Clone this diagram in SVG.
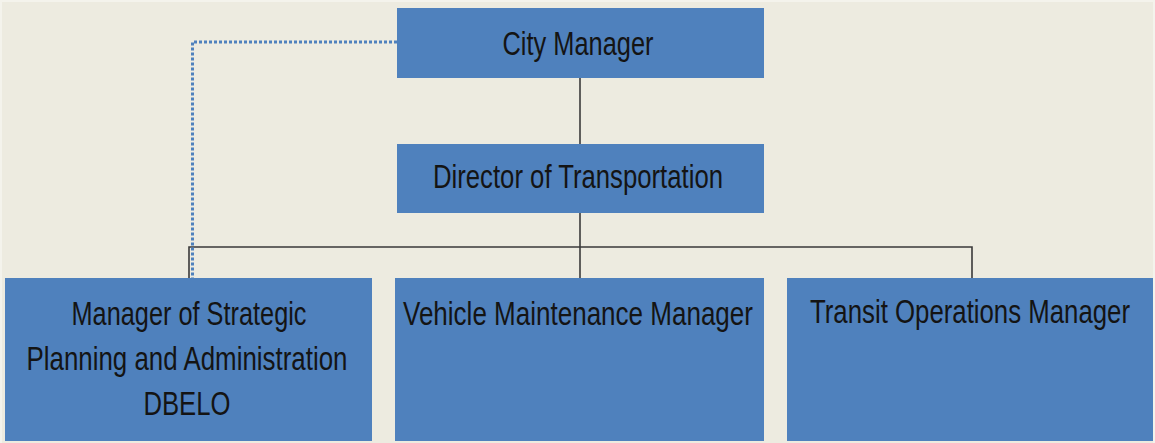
<svg xmlns="http://www.w3.org/2000/svg" width="1155" height="443" viewBox="0 0 1155 443">
  <style>
    .box { fill: #4F81BD; }
    .lbl { font-family: "Liberation Sans", Arial, sans-serif; font-size: 33px; fill: #141414; text-anchor: middle; }
    .line { fill: none; stroke: #3a3a3a; stroke-width: 1.6; }
    .dot { fill: none; stroke: #4F81BD; stroke-width: 3; stroke-dasharray: 3 2; }
  </style>
  <!-- page -->
  <rect x="0" y="0" width="1155" height="443" fill="#F4F3EC"/>
  <rect x="2" y="2" width="1151" height="441" fill="#EDEBE0"/>

  <g id="connectors">
    <line class="line" x1="580" y1="78" x2="580" y2="144"/>
    <line class="line" x1="580" y1="213" x2="580" y2="278"/>
    <polyline class="line" points="189,278 189,247 972,247 972,278"/>
    <polyline class="dot" points="397,42 192.5,42 192.5,278"/>
  </g>

  <!-- labels use a narrow face: horizontal scale 0.78 -->
  <g id="city-manager">
    <rect class="box" x="397" y="8" width="367" height="70"/>
    <g transform="scale(0.78,1)">
      <text class="lbl" x="741" y="55" textLength="193.6" lengthAdjust="spacingAndGlyphs">City Manager</text>
    </g>
  </g>

  <g id="director-transportation">
    <rect class="box" x="397" y="144" width="367" height="69"/>
    <g transform="scale(0.78,1)">
      <text class="lbl" x="741" y="188" textLength="371.8" lengthAdjust="spacingAndGlyphs">Director of Transportation</text>
    </g>
  </g>

  <g id="strategic-planning">
    <rect class="box" x="5" y="278" width="367" height="163"/>
    <g transform="scale(0.78,1)">
      <text class="lbl" x="242.3" y="325" textLength="301.3" lengthAdjust="spacingAndGlyphs">Manager of Strategic</text>
      <text class="lbl" x="239.7" y="370" textLength="411.5" lengthAdjust="spacingAndGlyphs">Planning and Administration</text>
      <text class="lbl" x="239.7" y="415" textLength="111.5" lengthAdjust="spacingAndGlyphs">DBELO</text>
    </g>
  </g>

  <g id="vehicle-maintenance">
    <rect class="box" x="395" y="278" width="369" height="163"/>
    <g transform="scale(0.78,1)">
      <text class="lbl" x="741" y="325" textLength="448.7" lengthAdjust="spacingAndGlyphs">Vehicle Maintenance Manager</text>
    </g>
  </g>

  <g id="transit-operations">
    <rect class="box" x="787" y="278" width="366" height="163"/>
    <g transform="scale(0.78,1)">
      <text class="lbl" x="1243.6" y="323" textLength="410.3" lengthAdjust="spacingAndGlyphs">Transit Operations Manager</text>
    </g>
  </g>
</svg>
